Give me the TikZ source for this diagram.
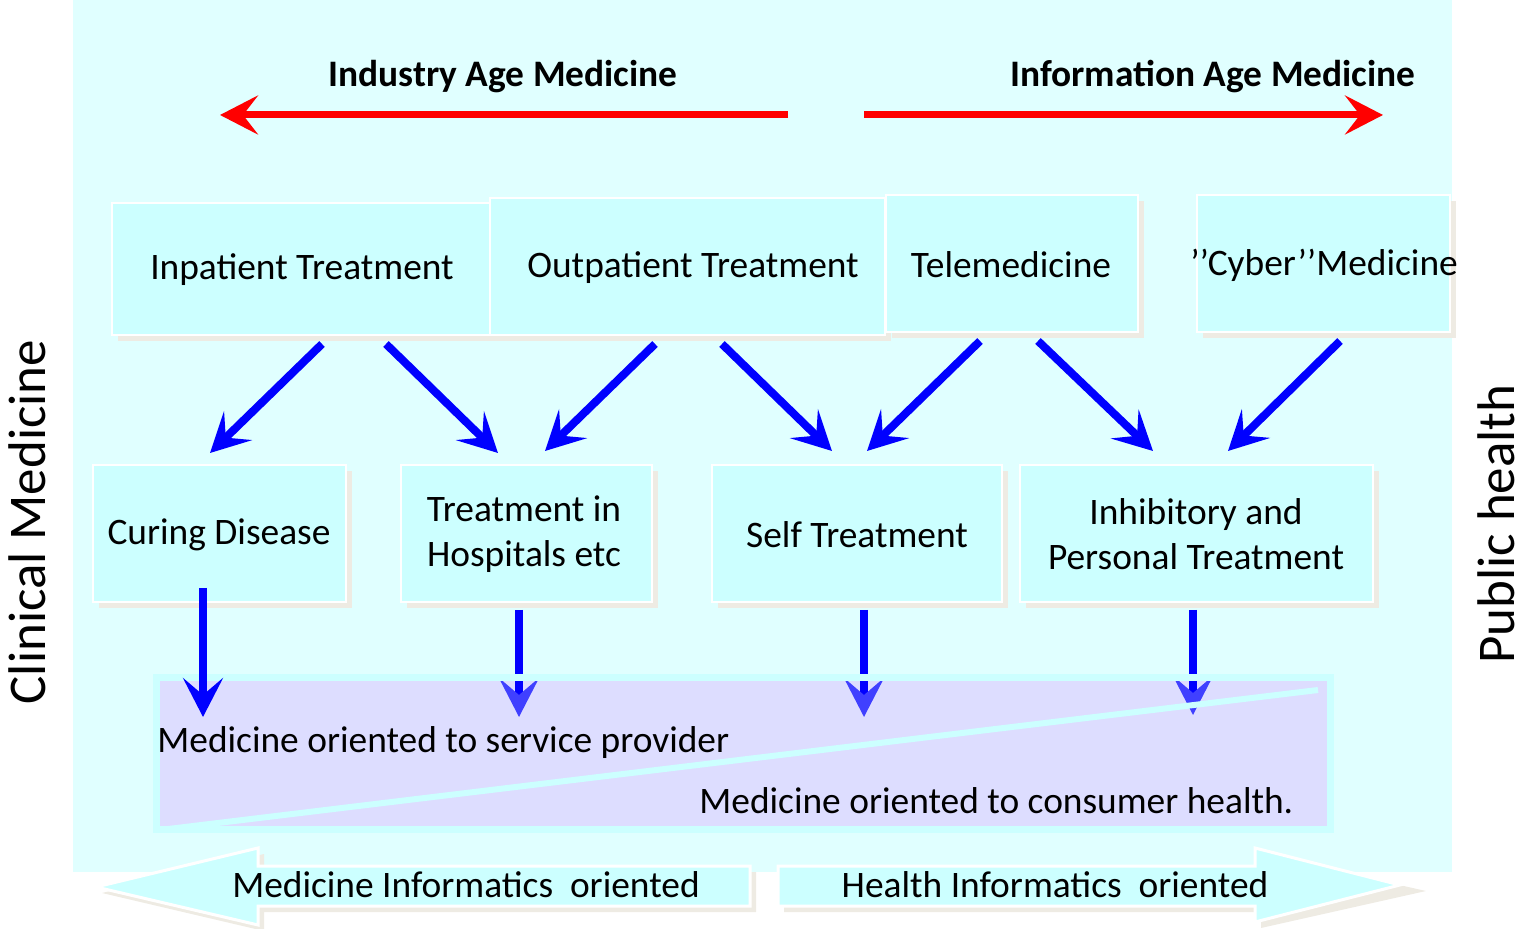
\documentclass[tikz,border=0pt]{standalone}
\usepackage{fontspec}
\setmainfont{Carlito}
\usetikzlibrary{arrows.meta,shadows}
\definecolor{panel}{HTML}{E0FFFF}
\definecolor{boxfill}{HTML}{CCFFFF}
\definecolor{shadowc}{HTML}{EEEBE3}
\definecolor{lav}{HTML}{DDDDFF}
\definecolor{headblue}{HTML}{4040FF}
\begin{document}
\begin{tikzpicture}[x=0.5pt,y=-0.5pt,
  box/.style={fill=boxfill,draw=white,line width=1pt,inner sep=0pt,
    drop shadow={shadow xshift=3pt,shadow yshift=-3pt,fill=shadowc,opacity=1}},
  txt/.style={font=\fontsize{18.7}{22.5}\selectfont,align=center,inner sep=0pt},
  ttl/.style={font=\fontsize{18.7}{22.5}\selectfont\bfseries,inner sep=0pt},
  side/.style={font=\fontsize{26.5}{30}\selectfont,rotate=90,inner sep=0pt},
  redarrow/.style={draw=red,line width=3.5pt,-{Stealth[length=19pt,width=19.5pt,inset=7.5pt]}},
  bluearrow/.style={draw=blue,line width=4pt,-{Stealth[length=19.5pt,width=20pt,inset=8.5pt]}},
  fadedarrow/.style={draw=blue,line width=4pt,-{Stealth[length=19.5pt,width=20pt,inset=8.5pt,color=headblue]}},
  bigarrow/.style={fill=boxfill,draw=white,line width=1.5pt,line join=miter},
  bigshadow/.style={fill=shadowc}]
\useasboundingbox (0,0) rectangle (1526,929);
% panel
\fill[panel] (73,0) rectangle (1452,872);

% titles and red arrows
\node[ttl] (tInd) at (503,77) {Industry Age Medicine};
\node[ttl] (tInf) at (1213,77) {Information Age Medicine};
\coordinate (r1s) at (788,115); \coordinate (r1e) at (220,115);
\coordinate (r2s) at (864,115); \coordinate (r2e) at (1383,115);
\draw[redarrow] (r1s) -- (r1e);
\draw[redarrow] (r2s) -- (r2e);

% top boxes
\node[box,minimum width=189pt,minimum height=66pt] (inp) at (301,269) {};
\node[box,minimum width=197.5pt,minimum height=68.5pt] (outp) at (687.5,266.5) {};
\node[box,minimum width=126pt,minimum height=68.5pt] (tele) at (1012,263.5) {};
\node[box,minimum width=126.5pt,minimum height=68.5pt] (cyber) at (1323.5,263.5) {};
\node[txt] (inpT) at (302,270) {Inpatient Treatment};
\node[txt] (outpT) at (693,268) {Outpatient Treatment};
\node[txt] (teleT) at (1011,265) {Telemedicine};
\node[txt] (cyberT) at (1324,265) {’’Cyber’’Medicine};

% middle boxes
\node[box,minimum width=126.5pt,minimum height=68.5pt] (cure) at (219.5,533.5) {};
\node[box,minimum width=125.5pt,minimum height=68.5pt] (hosp) at (526.5,533.5) {};
\node[box,minimum width=145pt,minimum height=68.5pt] (self) at (857,533.5) {};
\node[box,minimum width=176.5pt,minimum height=68.5pt] (inhib) at (1196.5,533.5) {};
\node[txt] (cureT) at (219,535) {Curing Disease};
\node[txt] (hospT) at (524,534) {Treatment in\\ Hospitals etc};
\node[txt] (selfT) at (857,535) {Self Treatment};
\node[txt] (inhibT) at (1196,534) {Inhibitory and\\Personal Treatment};

% diagonal arrows
\coordinate (d1s) at (322,344); \coordinate (d1e) at (210,453);
\coordinate (d2s) at (386,344); \coordinate (d2e) at (498,453);
\coordinate (d3s) at (655,344); \coordinate (d3e) at (545,451);
\coordinate (d4s) at (722,344); \coordinate (d4e) at (832,451);
\coordinate (d5s) at (980,341); \coordinate (d5e) at (867,451);
\coordinate (d6s) at (1038,341); \coordinate (d6e) at (1153,451);
\coordinate (d7s) at (1340,341); \coordinate (d7e) at (1228,451);
\foreach \i in {1,...,7} \draw[bluearrow] (d\i s) -- (d\i e);

% bottom panel
\fill[lav] (156,678) rectangle (1330,829);
\coordinate (v2s) at (519,610); \coordinate (v2e) at (519,717);
\coordinate (v3s) at (864,610); \coordinate (v3e) at (864,717);
\coordinate (v4s) at (1193,610); \coordinate (v4e) at (1193,715);
\foreach \i in {2,3,4} \draw[fadedarrow] (v\i s) -- (v\i e);
\draw[boxfill,line width=3.5pt] (156,678) rectangle (1330,829);
\coordinate (dl1) at (160,830); \coordinate (dl2) at (1318,690);
\draw[boxfill,line width=3pt] (dl1) -- (dl2);
\coordinate (v1s) at (203,588); \coordinate (v1e) at (203,717);
\draw[bluearrow] (v1s) -- (v1e);
\node[txt,anchor=west] (prov) at (157,743) {Medicine oriented to service provider};
\node[txt,anchor=west] (cons) at (699,801) {Medicine oriented to consumer health.};

% side labels
\node[side] (clin) at (27,522) {Clinical Medicine};
\node[side] (pub) at (1496,524) {Public health};

% bottom big arrows
\fill[bigshadow] (102,893) -- (264,854) -- (264,872) -- (756,872) -- (756,912) -- (264,912) -- (264,931) -- cycle;
\path[bigarrow] (96,887) -- (258,848) -- (258,866) -- (750,866) -- (750,906) -- (258,906) -- (258,925) -- cycle;
\fill[bigshadow] (784,872) -- (1261,872) -- (1261,854) -- (1426,891) -- (1261,928) -- (1261,912) -- (784,912) -- cycle;
\path[bigarrow] (778,866) -- (1255,866) -- (1255,848) -- (1400,885) -- (1255,922) -- (1255,906) -- (778,906) -- cycle;
\node[txt] (medInf) at (466,885) {Medicine Informatics~ oriented};
\node[txt] (healthInf) at (1055,885) {Health Informatics~ oriented};
\end{tikzpicture}
\end{document}
